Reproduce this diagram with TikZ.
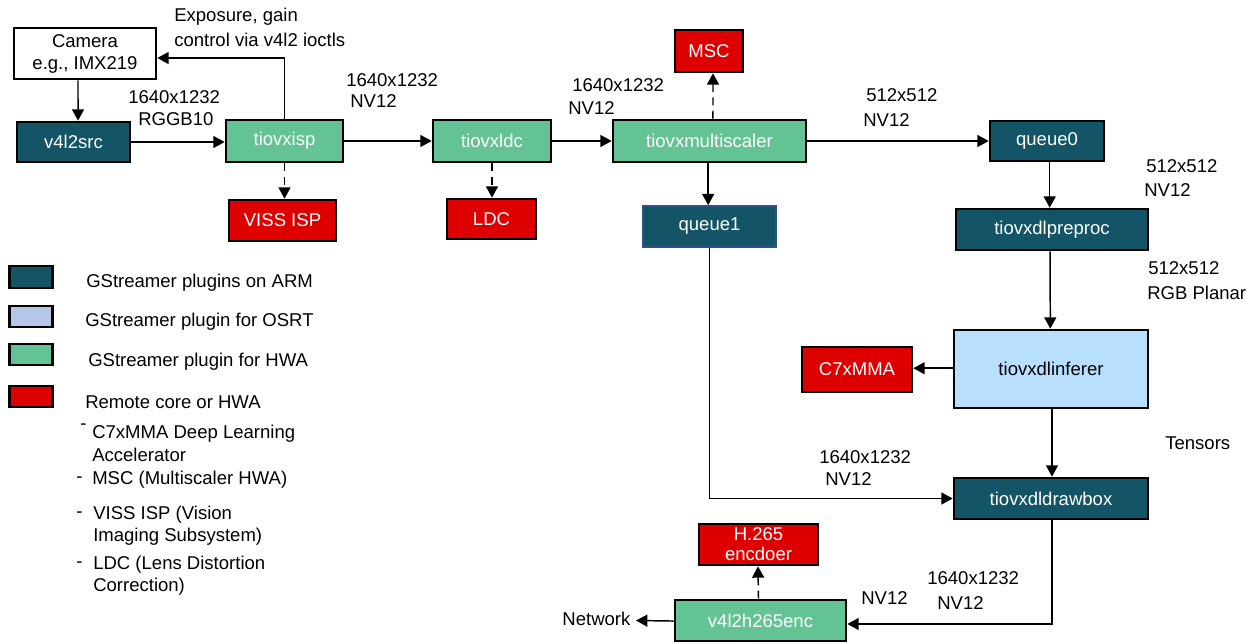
\documentclass[tikz,border=0pt]{standalone}
\usepackage{fontspec}
\setmainfont{Liberation Sans}
\usetikzlibrary{arrows.meta}
\definecolor{armc}{HTML}{135566}
\definecolor{hwac}{HTML}{64C394}
\definecolor{remc}{HTML}{DE0000}
\definecolor{osrtc}{HTML}{B9DFFF}
\definecolor{osrtleg}{HTML}{B4C7E7}
\definecolor{qborder}{HTML}{2F528F}
\tikzset{
 base/.style={rectangle, draw=black, line width=2pt, inner sep=0pt, align=center},
 arm/.style={base, fill=armc, text=white},
 hwa/.style={base, fill=hwac, text=white},
 rem/.style={base, fill=remc, text=white},
 osrt/.style={base, fill=osrtc, text=black},
 cam/.style={base, fill=white, text=black},
 sz/.style 2 args={minimum width=#1*0.75pt-1.5pt, minimum height=#2*0.75pt-1.5pt},
 lbl/.style={inner sep=0pt, anchor=west, align=left},
 arr/.style={line width=1.1pt, -{Triangle[length=8.5pt,width=9pt]}},
 darr/.style={arr, dash pattern=on 6pt off 4pt},
}
\begin{document}
\begin{tikzpicture}[x=0.75pt, y=-0.75pt, every node/.style={font=\fontsize{13.9pt}{16.5pt}\selectfont}]
\useasboundingbox (0,0) rectangle (1255,643);
% boxes
\node[cam, sz={144}{53}] (camera) at (85,53.5) {Camera\\e.g., IMX219};
\node[arm, sz={115}{42}] (v4l2src) at (73.5,142) {v4l2src};
\node[hwa, sz={119}{44}] (isp) at (284.5,141) {tiovxisp};
\node[rem, sz={109}{43}] (viss) at (282.5,220.5) {VISS ISP};
\node[hwa, sz={120}{44}] (ldcplug) at (492,141) {tiovxldc};
\node[rem, sz={91}{42}] (ldc) at (491.5,219) {LDC};
\node[hwa, sz={195}{44}] (ms) at (709.5,141) {tiovxmultiscaler};
\node[rem, sz={70}{44}] (msc) at (709,51) {MSC};
\node[arm, sz={135}{43}, draw=qborder, line width=1.2pt] (queue1) at (709.5,226.5) {queue1};
\node[arm, sz={116}{42}] (queue0) at (1047,141) {queue0};
\node[arm, sz={194}{43}] (pre) at (1052,229.5) {tiovxdlpreproc};
\node[osrt, sz={196}{80}] (inf) at (1051,369) {tiovxdlinferer};
\node[rem, sz={112}{47}] (c7x) at (857,369.5) {C7xMMA};
\node[arm, sz={196}{43}] (draw) at (1051,498.5) {tiovxdldrawbox};
\node[rem, sz={121}{43}] (h265) at (758.5,544.5) {H.265\\[-1.5pt]encdoer};
\node[hwa, sz={173}{43}] (enc) at (760.5,620.5) {v4l2h265enc};
\node[lbl, inner sep=4pt, anchor=east] (network) at (636,619) {Network};
% connectors
\draw[arr] ([xshift=-5.25pt]camera.south) -- ([xshift=3.4pt]v4l2src.north);
\draw[arr] (v4l2src.east) -- (v4l2src.east -| isp.west);
\draw[arr] (isp.north) |- ([yshift=-3.4pt]camera.east);
\draw[darr] (isp.south) -- (isp.south |- viss.north);
\draw[arr] (isp.east) -- (ldcplug.west);
\draw[darr] (ldcplug.south) -- (ldcplug.south |- ldc.north);
\draw[arr] (ldcplug.east) -- (ms.west);
\draw[darr] ([xshift=2.6pt]ms.north) -- ([xshift=3pt]msc.south);
\draw[arr] ([xshift=-1pt]ms.south) -- ([xshift=-1pt]queue1.north);
\draw[arr] (ms.east) -- (ms.east -| queue0.west);
\draw[arr] ([xshift=2pt]queue0.south) -- ([xshift=2pt]queue0.south |- pre.north);
\draw[arr] ([xshift=-1.5pt]pre.south) -- ([xshift=-0.5pt]inf.north);
\draw[arr] ([yshift=0.6pt]inf.west) -- ([yshift=0.6pt]inf.west -| c7x.east);
\draw[arr] ([xshift=0.75pt]inf.south) -- ([xshift=0.75pt]draw.north);
\draw[arr] (queue1.south) |- (draw.west);
\draw[arr] ([xshift=0.75pt]draw.south) |- ([yshift=-2.6pt]enc.east);
\draw[darr] ([xshift=-1.5pt]enc.north) -- ([xshift=-0.4pt]h265.south);
\draw[arr] ([yshift=-0.4pt]enc.west) -- (enc.west -| network.east);
% labels
\node[lbl] (lexp) at (174,17) {Exposure, gain};
\node[lbl] (lctl) at (174,40) {control via v4l2 ioctls};
\node[lbl] (la1) at (128,97) {1640x1232};
\node[lbl] (la2) at (138,119) {RGGB10};
\node[lbl] (lb1) at (346,80) {1640x1232};
\node[lbl] (lb2) at (350,101) {NV12};
\node[lbl] (lc1) at (572,85) {1640x1232};
\node[lbl] (lc2) at (568,108) {NV12};
\node[lbl] (ld1) at (866,95) {512x512};
\node[lbl] (ld2) at (863,120) {NV12};
\node[lbl] (le1) at (1146,166) {512x512};
\node[lbl] (le2) at (1144,190) {NV12};
\node[lbl] (lf1) at (1148,268) {512x512};
\node[lbl] (lf2) at (1147,293) {RGB Planar};
\node[lbl] (lten) at (1165,443) {Tensors};
\node[lbl] (lg1) at (819,457) {1640x1232};
\node[lbl] (lg2) at (825,479) {NV12};
\node[lbl] (lh) at (861,598) {NV12};
\node[lbl] (li1) at (927,578) {1640x1232};
\node[lbl] (li2) at (937,603) {NV12};
% legend
\node[arm, sz={45}{24}] (k1) at (31,277) {};
\node[base, fill=osrtleg, sz={45}{23}] (k2) at (31,316.5) {};
\node[hwa, sz={45}{23}] (k3) at (31,354.5) {};
\node[rem, sz={45}{23}] (k4) at (31,396.5) {};
\node[lbl] (t1) at (86,283) {GStreamer plugins on ARM};
\node[lbl] (t2) at (85,322) {GStreamer plugin for OSRT};
\node[lbl] (t3) at (88,362) {GStreamer plugin for HWA};
\node[lbl] (t4) at (85,402) {Remote core or HWA};
\node[lbl] (d1) at (80,427) {-};
\node[lbl] (t5) at (92,434) {C7xMMA Deep Learning};
\node[lbl] (t5b) at (92,455) {Accelerator};
\node[lbl] (d2) at (76,480) {-};
\node[lbl] (t6) at (92,480) {MSC (Multiscaler HWA)};
\node[lbl] (d3) at (76,515) {-};
\node[lbl] (t7) at (93,515) {VISS ISP (Vision};
\node[lbl] (t7b) at (93,537) {Imaging Subsystem)};
\node[lbl] (d4) at (76,565) {-};
\node[lbl] (t8) at (93,565) {LDC (Lens Distortion};
\node[lbl] (t8b) at (93,587) {Correction)};
\end{tikzpicture}
\end{document}
